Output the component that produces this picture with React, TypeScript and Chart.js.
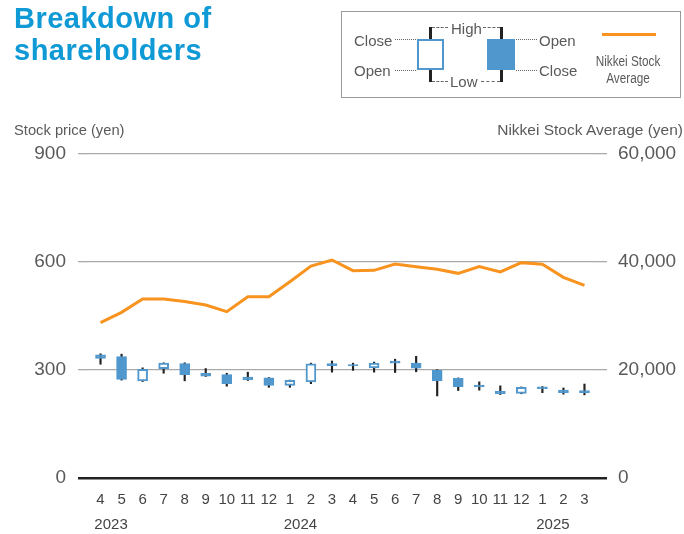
import React, { useEffect, useRef } from 'react';
import { Chart, registerables } from 'chart.js';

Chart.register(...registerables);

// ---------- data ----------
const months = ['4', '5', '6', '7', '8', '9', '10', '11', '12', '1', '2', '3', '4', '5', '6', '7', '8', '9', '10', '11', '12', '1', '2', '3'];
const yearLabels = ['2023', '2024', '2025'];
const yearFirstIndex = [0, 9, 21];

const opens = [342, 337, 270, 304, 318, 291, 287, 280, 278, 257, 267, 318, 315, 306, 325, 319, 299, 277, 258, 241, 235, 253, 244, 243];
const closes = [332, 274, 302, 319, 287, 283, 262, 273, 257, 271, 317, 312, 311, 319, 319, 305, 270, 254, 253, 234, 252, 248, 237, 237];
const highs = [345, 344, 306, 320, 320, 304, 291, 294, 279, 272, 319, 325, 319, 322, 330, 338, 301, 278, 267, 256, 253, 254, 250, 261];
const lows = [316, 272, 268, 291, 270, 282, 255, 271, 252, 252, 262, 294, 299, 294, 293, 295, 228, 243, 244, 232, 234, 237, 233, 231];

const nikkei = [28760, 30680, 33150, 33150, 32690, 32040, 30800, 33580, 33580, 36350, 39260, 40370, 38390, 38450, 39630, 39130, 38640, 37900, 39140, 38150, 39880, 39570, 37160, 35680];

const priceMax = 900;
const priceStep = 300;
const nikkeiMax = 60000;
const nikkeiStep = 20000;

// ---------- styles ----------
const BLUE = '#4f97cc';
const ORANGE = '#f7931e';
const TEXT = '#5a5a5a';
const FONT = "'Liberation Sans', Arial, Helvetica, sans-serif";
const NARROW = "'Liberation Sans Narrow', 'Arial Narrow', 'Liberation Sans', sans-serif";

type TxtProps = { x: number; y: number; text: string; align?: 'left' | 'center' | 'right'; size?: number; family?: string; sx?: number };
function Txt({ x, y, text, align = 'left', size = 15, family = FONT, sx = 1 }: TxtProps) {
  const tx = align === 'left' ? '0' : align === 'center' ? '-50%' : '-100%';
  const origin = align === 'left' ? 'left center' : align === 'center' ? 'center center' : 'right center';
  return (
    <div
      style={{
        position: 'absolute',
        left: x,
        top: y,
        transform: `translate(${tx}, -50%) scaleX(${sx})`,
        transformOrigin: origin,
        fontFamily: family,
        fontSize: size,
        lineHeight: 1,
        color: TEXT,
        whiteSpace: 'nowrap',
      }}
    >
      {text}
    </div>
  );
}

function HLine({ x1, x2, y, style }: { x1: number; x2: number; y: number; style: string }) {
  return <div style={{ position: 'absolute', left: x1, top: y, width: x2 - x1, height: 0, borderTop: `1.5px ${style} #666` }} />;
}

function Rect({ x, y, w, h, bg, border }: { x: number; y: number; w: number; h: number; bg: string; border?: string }) {
  return (
    <div
      style={{
        position: 'absolute',
        left: x,
        top: y,
        width: w,
        height: h,
        background: bg,
        border: border,
        boxSizing: 'border-box',
      }}
    />
  );
}

export default function App() {
  const ref = useRef<HTMLCanvasElement>(null);

  useEffect(() => {
    if (!ref.current) return;
    const yearPlugin = {
      id: 'yearLabels',
      afterDraw(chart: any) {
        const xs = chart.scales.x;
        const ctx = chart.ctx;
        ctx.save();
        ctx.font = `15px ${NARROW}`;
        ctx.fillStyle = '#444';
        ctx.textAlign = 'center';
        ctx.textBaseline = 'middle';
        yearLabels.forEach((t, i) => {
          const k = yearFirstIndex[i];
          const px = (xs.getPixelForValue(k) + xs.getPixelForValue(k + 1)) / 2;
          ctx.fillText(t, px, 525);
        });
        ctx.restore();
      },
    };

    const gridColor = (c: any) => (c.tick && c.tick.value === 0 ? '#222' : '#aaa');
    const gridWidth = (c: any) => (c.tick && c.tick.value === 0 ? 2.5 : 1.3);

    const chart = new Chart(ref.current, {
      type: 'bar',
      data: {
        labels: months,
        datasets: [
          {
            type: 'line',
            label: 'Nikkei Stock Average',
            data: nikkei,
            yAxisID: 'y2',
            borderColor: ORANGE,
            borderWidth: 3,
            pointRadius: 0,
            tension: 0,
            order: 0,
          } as any,
          {
            type: 'bar',
            label: 'body',
            data: opens.map((o, i) => [o, closes[i]]),
            yAxisID: 'y',
            backgroundColor: opens.map((o, i) => (closes[i] < o ? BLUE : '#ffffff')),
            borderColor: BLUE,
            borderWidth: 2,
            borderSkipped: false,
            barThickness: 10,
            grouped: false,
            order: 1,
          } as any,
          {
            type: 'bar',
            label: 'wick',
            data: lows.map((l, i) => [l, highs[i]]),
            yAxisID: 'y',
            backgroundColor: '#222',
            borderWidth: 0,
            barThickness: 1.5,
            grouped: false,
            order: 2,
          } as any,
        ],
      },
      options: {
        animation: false,
        responsive: false,
        layout: { padding: { top: 154, left: 0, right: 0, bottom: 0 } },
        plugins: { legend: { display: false }, tooltip: { enabled: false } },
        scales: {
          x: {
            offset: true,
            grid: { display: false, drawTicks: false },
            border: { display: false },
            ticks: { font: { size: 15, family: NARROW }, color: '#444', padding: 13, maxRotation: 0, autoSkip: false },
            afterFit(s: any) {
              s.height = 56;
            },
          },
          y: {
            position: 'left',
            min: 0,
            max: priceMax,
            ticks: { stepSize: priceStep, font: { size: 19, family: FONT }, color: TEXT, padding: 12 },
            grid: { color: gridColor, lineWidth: gridWidth, tickLength: 12, drawTicks: true },
            border: { display: false },
            afterFit(s: any) {
              s.width = 90;
            },
          },
          y2: {
            position: 'right',
            min: 0,
            max: nikkeiMax,
            ticks: {
              stepSize: nikkeiStep,
              font: { size: 19, family: FONT },
              color: TEXT,
              padding: 11,
              callback: (v: any) => Number(v).toLocaleString('en-US'),
            },
            grid: { color: gridColor, lineWidth: gridWidth, tickLength: 12, drawTicks: true, drawOnChartArea: false },
            border: { display: false },
            afterFit(s: any) {
              s.width = 89;
            },
          },
        },
      } as any,
      plugins: [yearPlugin],
    });
    return () => chart.destroy();
  }, []);

  return (
    <div style={{ position: 'absolute', left: 0, top: 0, width: 684, height: 534, background: '#fff', overflow: 'hidden' }}>
      <canvas ref={ref} width={684} height={534} style={{ position: 'absolute', left: 0, top: 0, width: 684, height: 534 }} />
      <div
        style={{
          position: 'absolute',
          left: 14,
          top: 2,
          fontFamily: FONT,
          fontWeight: 'bold',
          fontSize: 29,
          lineHeight: '32px',
          letterSpacing: 0.5,
          color: '#0f9ad6',
        }}
      >
        Breakdown of
        <br />
        shareholders
      </div>

      <Txt x={14} y={130} text="Stock price (yen)" size={15.5} sx={0.95} />
      <Txt x={683} y={130} text="Nikkei Stock Average (yen)" align="right" size={15.5} />

      {/* legend box */}
      <div style={{ position: 'absolute', left: 341, top: 11, width: 340, height: 87, border: '1px solid #9a9a9a', boxSizing: 'border-box' }} />
      <Txt x={354} y={39.5} text="Close" />
      <Txt x={354} y={70} text="Open" />
      <HLine x1={395} x2={416} y={39} style="dotted" />
      <HLine x1={395} x2={416} y={69.5} style="dotted" />
      <Rect x={428.5} y={27} w={3} h={12} bg="#222" />
      <Rect x={428.5} y={70} w={3} h={11.5} bg="#222" />
      <Rect x={416.5} y={39} w={27} h={31} bg="#fff" border={`2.5px solid ${BLUE}`} />
      <HLine x1={432} x2={448} y={27} style="dashed" />
      <HLine x1={483} x2={500} y={27} style="dashed" />
      <HLine x1={432} x2={448} y={80.5} style="dashed" />
      <HLine x1={481} x2={500} y={80.5} style="dashed" />
      <Txt x={451} y={28} text="High" />
      <Txt x={450} y={81} text="Low" />
      <Rect x={500} y={27} w={3} h={12} bg="#222" />
      <Rect x={500} y={70} w={3} h={11.5} bg="#222" />
      <Rect x={487} y={39} w={28} h={31} bg={BLUE} />
      <HLine x1={516} x2={537} y={39} style="dotted" />
      <HLine x1={516} x2={537} y={69.5} style="dotted" />
      <Txt x={539} y={39.5} text="Open" />
      <Txt x={539} y={70} text="Close" />
      <Rect x={602} y={32.5} w={54} h={3} bg={ORANGE} />
      <Txt x={628} y={60.5} text="Nikkei Stock" align="center" size={14} sx={0.84} />
      <Txt x={628} y={78} text="Average" align="center" size={14} sx={0.84} />
    </div>
  );
}
